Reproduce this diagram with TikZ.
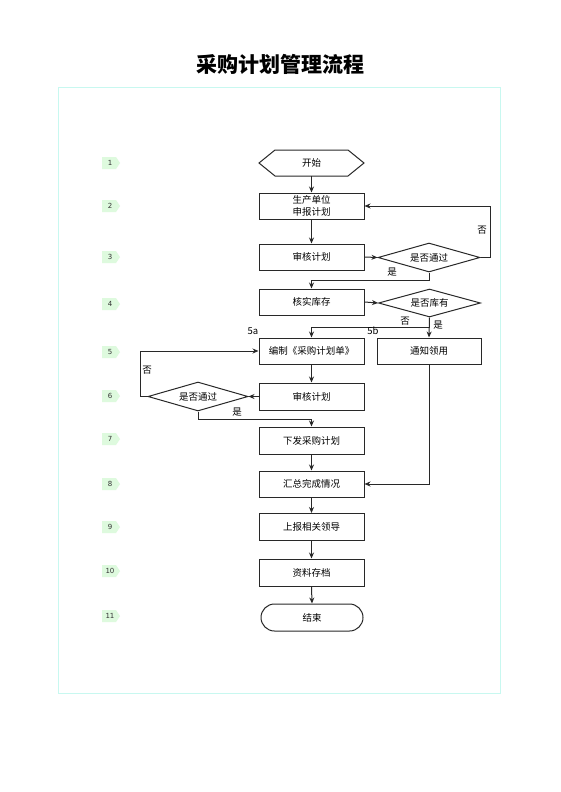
\documentclass[tikz,border=0pt]{standalone}
\usepackage{fontspec}
\setmainfont{Noto Sans CJK SC}
\newfontfamily\numfont{DejaVu Sans}
\usetikzlibrary{arrows.meta,shapes.geometric}
\definecolor{framec}{RGB}{200,248,240}
\definecolor{tagc}{RGB}{222,250,222}
\definecolor{linec}{RGB}{40,40,40}
\tikzset{
  box/.style={draw=linec,line width=1pt,minimum width=105pt,minimum height=26pt,inner sep=0pt,font=\fontsize{9.5}{12.5}\selectfont,align=center},
  dia/.style={draw=linec,line width=1pt,shape=diamond,aspect=3.5,minimum width=102pt,minimum height=29pt,inner sep=0pt,font=\fontsize{9.5}{11}\selectfont},
  conn/.style={draw=linec,line width=1pt},
  arr/.style={conn,-{Stealth[length=6pt,width=5pt]}},
  lbl/.style={font=\fontsize{9.5}{11}\selectfont,inner sep=0pt},
  tagtxt/.style={font=\numfont\fontsize{7}{8}\selectfont,inner sep=0pt,text=black!80}
}
\newcommand{\steptag}[3]{%
  \fill[tagc] (102,#2-6) -- (116,#2-6) -- (120,#2) -- (116,#2+6) -- (102,#2+6) -- cycle;
  \node[tagtxt] (#1) at (110,#2) {#3};}
\begin{document}
\begin{tikzpicture}[x=1pt,y=-1pt]
\useasboundingbox (0,0) rectangle (560,792);
\fill[white] (0,0) rectangle (560,792);
\node[font=\fontsize{21}{24}\selectfont\bfseries,inner sep=0pt] (title) at (280,64) {采购计划管理流程};
\draw[framec,line width=0.8pt] (58,87) rectangle (500,693);
% step tags
\steptag{t1}{163}{1}
\steptag{t2}{206}{2}
\steptag{t3}{257}{3}
\steptag{t4}{304}{4}
\steptag{t5}{352}{5}
\steptag{t6}{396}{6}
\steptag{t7}{439}{7}
\steptag{t8}{484}{8}
\steptag{t9}{527}{9}
\steptag{t10}{571}{10}
\steptag{t11}{616}{11}
% start hexagon
\draw[linec,line width=1pt] (259,163) -- (275,150) -- (348,150) -- (364,163) -- (348,176) -- (275,176) -- cycle;
\node[minimum width=105pt,minimum height=26pt,inner sep=0pt,font=\fontsize{9.5}{11}\selectfont] (start) at (311.5,163) {开始};
\node[box] (b1) at (311.5,206) {生产单位\\申报计划};
\node[box] (b2) at (311.5,257) {审核计划};
\node[dia] (d1) at (429,257.5) {是否通过};
\node[box] (b3) at (311.5,302) {核实库存};
\node[dia,minimum height=28pt] (d2) at (429.5,303) {是否库有};
\node[box] (b4) at (311.5,351) {编制《采购计划单》};
\node[box,minimum width=104pt] (b5) at (429,351) {通知领用};
\node[box,minimum height=27pt] (b6) at (311.5,396.5) {审核计划};
\node[dia,minimum width=100pt] (d3) at (198,396.5) {是否通过};
\node[box,minimum height=27pt] (b7) at (311.5,440.5) {下发采购计划};
\node[box] (b8) at (311.5,484) {汇总完成情况};
\node[box,minimum height=27pt] (b9) at (311.5,527) {上报相关领导};
\node[box,minimum height=27pt] (b10) at (311.5,572.5) {资料存档};
\node[box,minimum width=102pt,minimum height=27pt,rounded corners=13.5pt] (end) at (312,617.5) {结束};
% coordinates
\coordinate (c1) at (490,257.5);
\coordinate (c2) at (429,280);
\coordinate (c3) at (429.5,327);
\coordinate (c4) at (140,396.5);
\coordinate (c5) at (198,419);
% connectors
\draw[arr] (start.south) -- (b1.north);
\draw[arr] (b1.south) -- (b2.north);
\draw[arr] (b2.east) -- (d1.west);
\draw[arr] (d1.east) -- (c1) |- (b1.east);
\draw[arr] (d1.south) -- (c2) -| (b3.north);
\draw[arr] (b3.east) -- (d2.west);
\draw[arr] (d2.south) -- (b5.north);
\draw[arr] (c3) -| (b4.north);
\draw[arr] (b4.south) -- (b6.north);
\draw[arr] (b6.west) -- (d3.east);
\draw[arr] (d3.west) -- (c4) |- (b4.west);
\draw[arr] (d3.south) -- (c5) -| (b7.north);
\draw[arr] (b7.south) -- (b8.north);
\draw[arr] (b5.south) |- (b8.east);
\draw[arr] (b8.south) -- (b9.north);
\draw[arr] (b9.south) -- (b10.north);
\draw[arr] (b10.south) -- (end.north);
% labels
\node[lbl] (l1) at (482,230) {否};
\node[lbl] (l2) at (392,272) {是};
\node[lbl] (l3) at (405,321) {否};
\node[lbl] (l4) at (438,325) {是};
\node[lbl] (l5) at (253,331) {5a};
\node[lbl] (l6) at (373,331) {5b};
\node[lbl] (l7) at (147,370) {否};
\node[lbl] (l8) at (237,412) {是};
\end{tikzpicture}
\end{document}
